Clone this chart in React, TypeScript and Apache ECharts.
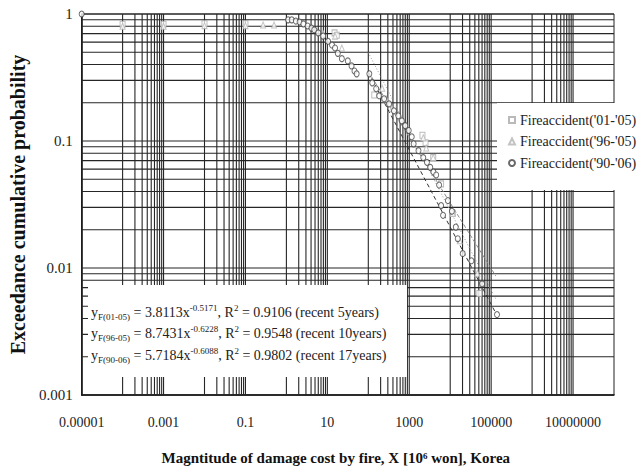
import React, { useEffect, useRef } from 'react';
import * as echarts from 'echarts';

// ---- axis structure ----
const X_MIN = 0.00001;
const X_MAX = 100000000;
const Y_MIN = 0.001;
const Y_MAX = 1;
const X_TICKS = [0.00001, 0.001, 0.1, 10, 1000, 100000, 10000000];
const Y_TICKS = [0.001, 0.01, 0.1, 1];
// gridline decades (Excel-style: x minor lines in every other decade)
const GRID_X_DECADES = [0.0001, 0.01, 1, 100, 10000, 1000000];
const GRID_Y_DECADES = [0.001, 0.01, 0.1];
const GRID_MULTIPLES = [1, 2, 3, 4, 5, 6, 7, 8, 9, 10];

// ---- series names ----
const NAME_01_05 = "Fireaccident('01-'05)";
const NAME_96_05 = "Fireaccident('96-'05)";
const NAME_90_06 = "Fireaccident('90-'06)";

// ---- data: Fire accident '90-'06 (circles) ----
const circleX = [0.00001, 1.1, 1.35, 1.7, 2.1, 2.6, 3.3, 4.1, 4.8, 6.0, 7.9, 10.4, 13, 15.4, 18, 22.6, 31.6, 39, 46, 52,
  106, 125, 156, 185, 243, 321, 423, 540, 660, 800, 970, 1150, 1280, 1680, 2200, 2700, 3260, 3900, 4550, 5360, 6000, 6700, 8800,
  11000, 13700, 15300, 20200, 33000, 60000, 139000];
const circleY = [1.0, 0.9, 0.9, 0.88, 0.865, 0.835, 0.805, 0.775, 0.75, 0.71, 0.67, 0.61, 0.57, 0.54, 0.49, 0.445, 0.427, 0.39, 0.356, 0.338,
  0.338, 0.287, 0.258, 0.227, 0.215, 0.196, 0.173, 0.158, 0.144, 0.132, 0.121, 0.108, 0.095, 0.084, 0.074, 0.068, 0.062, 0.057, 0.054, 0.045, 0.031, 0.026, 0.034,
  0.028, 0.021, 0.017, 0.013, 0.0114, 0.0075, 0.0043];

// ---- data: Fire accident '01-'05 (squares) ----
const squareX = [0.0001, 0.001, 0.01, 0.1, 15, 17, 140, 2100, 2500, 3850, 6000, 11600, 51500];
const squareY = [0.83, 0.83, 0.84, 0.84, 0.71, 0.68, 0.23, 0.111, 0.097, 0.074, 0.046, 0.027, 0.0063];

// ---- data: Fire accident '96-'05 (triangles) ----
const triX = [0.0001, 0.001, 0.01, 0.1, 0.27, 0.5, 7.9, 15.4, 22.6, 218, 272, 378, 622, 2200, 2600, 3850, 11600, 17100, 46100];
const triY = [0.8, 0.8, 0.81, 0.81, 0.82, 0.82, 0.7, 0.67, 0.54, 0.26, 0.215, 0.18, 0.152, 0.106, 0.088, 0.074, 0.027, 0.0164, 0.0091];

// ---- fitted power-law lines (end points) ----
const FIT_X = [100, 130000];
const fit0105Y = [0.352, 0.00864];
const fit9605Y = [0.497, 0.00571];
const fit9006Y = [0.347, 0.00441];

// ---- equation text ----
const EQ_SUB = ['F(01-05)', 'F(96-05)', 'F(90-06)'];
const EQ_COEF = ['3.8113', '8.7431', '5.7184'];
const EQ_EXP = ['-0.5171', '-0.6228', '-0.6088'];
const EQ_R2 = ['0.9106', '0.9548', '0.9802'];
const EQ_NOTE = ['recent 5years', 'recent 10years', 'recent 17years'];

const FONT = 'Liberation Serif';

const zip = (xs: number[], ys: number[]) => xs.map((x, i) => [x, ys[i]]);

const fmtLog = (v: number) => {
  const e = Math.round(Math.log10(v));
  return e < 0 ? '0.' + '0'.repeat(-e - 1) + '1' : '1' + '0'.repeat(e);
};

export default function App() {
  const ref = useRef<HTMLDivElement>(null);

  useEffect(() => {
    if (!ref.current) return;
    const chart = echarts.init(ref.current, undefined, { renderer: 'svg' });

    const vGrid: number[][] = [];
    GRID_X_DECADES.forEach((d) => GRID_MULTIPLES.forEach((m) => vGrid.push([d * m, Y_MAX])));
    const hGrid: number[][] = [];
    GRID_Y_DECADES.forEach((d) => GRID_MULTIPLES.slice(0, 9).forEach((m) => hGrid.push([X_MAX, d * m])));
    hGrid.push([X_MAX, Y_MAX]);

    const gridColor = '#262626';
    const legendText = { fontFamily: FONT, fontSize: 14, color: '#222', lineHeight: 14 };

    const eqTexts = EQ_SUB.map((s, i) => ({
      type: 'text',
      x: 91,
      y: 312 + i * 21.5,
      z: 101,
      style: {
        text: `{m|y}{sub|${s}}{m| = ${EQ_COEF[i]}x}{sup|${EQ_EXP[i]}}{m|, R}{sup|2}{m| = ${EQ_R2[i]} (${EQ_NOTE[i]})}`,
        verticalAlign: 'middle',
        rich: {
          m: { fontSize: 14, fontFamily: FONT, fill: '#222', lineHeight: 18 },
          sub: { fontSize: 9, fontFamily: FONT, fill: '#222', lineHeight: 10, verticalAlign: 'bottom' },
          sup: { fontSize: 9, fontFamily: FONT, fill: '#222', lineHeight: 10, verticalAlign: 'top' },
        },
      },
    }));

    chart.setOption({
      animation: false,
      backgroundColor: '#fff',
      textStyle: { fontFamily: FONT },
      grid: { left: 72, right: 26, top: 14, bottom: 77, show: true, borderColor: '#222', borderWidth: 1 },
      legend: {
        data: [
          { name: NAME_01_05, icon: 'rect', textStyle: legendText },
          { name: NAME_96_05, icon: 'triangle', textStyle: legendText },
          { name: NAME_90_06, icon: 'circle', textStyle: legendText },
        ],
        orient: 'vertical',
        left: 497,
        top: 103,
        padding: [10, 4, 20, 11],
        itemGap: 7.5,
        itemWidth: 6,
        itemHeight: 6,
        backgroundColor: '#fff',
        textStyle: legendText,
      },
      xAxis: {
        type: 'log',
        logBase: 10,
        min: X_MIN,
        max: X_MAX,
        axisLine: { show: true, lineStyle: { color: '#111', width: 1.5 } },
        axisTick: { show: false },
        splitLine: { show: false },
        axisLabel: {
          customValues: X_TICKS,
          formatter: fmtLog,
          margin: 20,
          fontFamily: FONT,
          fontSize: 14,
          color: '#222',
        },
        name: 'Magntitude of damage cost by fire, X [10⁶ won], Korea',
        nameLocation: 'middle',
        nameGap: 55,
        nameTextStyle: { fontFamily: FONT, fontSize: 15, fontWeight: 'bold', color: '#111', padding: [0, 24, 0, 0] },
      },
      yAxis: {
        type: 'log',
        logBase: 10,
        min: Y_MIN,
        max: Y_MAX,
        axisLine: { show: true, lineStyle: { color: '#111', width: 1.5 } },
        axisTick: { show: false },
        splitLine: { show: false },
        axisLabel: {
          customValues: Y_TICKS,
          formatter: fmtLog,
          margin: 9,
          fontFamily: FONT,
          fontSize: 15,
          color: '#222',
        },
        name: 'Exceedance cumulative probability',
        nameLocation: 'middle',
        nameGap: 46,
        nameTextStyle: { fontFamily: FONT, fontSize: 20, fontWeight: 'bold', color: '#111' },
      },
      graphic: [
        {
          type: 'rect',
          x: 88,
          y: 285,
          z: 100,
          shape: { x: 0, y: 0, width: 319, height: 92 },
          style: { fill: '#fff' },
        },
        ...eqTexts,
      ],
      series: [
        {
          type: 'custom',
          name: 'gridV',
          silent: true,
          z: 1,
          data: vGrid,
          encode: { x: 0, y: 1 },
          renderItem: (_p: any, api: any) => {
            const a = api.coord([api.value(0), Y_MIN]);
            const b = api.coord([api.value(0), Y_MAX]);
            return { type: 'line', shape: { x1: a[0], y1: a[1], x2: b[0], y2: b[1] }, style: { stroke: gridColor, lineWidth: 1.1 } };
          },
        },
        {
          type: 'custom',
          name: 'gridH',
          silent: true,
          z: 1,
          data: hGrid,
          encode: { x: 0, y: 1 },
          renderItem: (_p: any, api: any) => {
            const a = api.coord([X_MIN, api.value(1)]);
            const b = api.coord([X_MAX, api.value(1)]);
            return { type: 'line', shape: { x1: a[0], y1: a[1], x2: b[0], y2: b[1] }, style: { stroke: gridColor, lineWidth: 1.1 } };
          },
        },
        {
          type: 'line',
          name: 'fit0105',
          data: zip(FIT_X, fit0105Y),
          showSymbol: false,
          z: 3,
          lineStyle: { color: '#8a8a8a', width: 1, type: [4, 2] },
        },
        {
          type: 'line',
          name: 'fit9605',
          data: zip(FIT_X, fit9605Y),
          showSymbol: false,
          z: 3,
          lineStyle: { color: '#9a9a9a', width: 1, type: [1, 2] },
        },
        {
          type: 'line',
          name: 'fit9006',
          data: zip(FIT_X, fit9006Y),
          showSymbol: false,
          z: 3,
          lineStyle: { color: '#333', width: 1, type: [4, 3] },
        },
        {
          type: 'scatter',
          name: NAME_01_05,
          data: zip(squareX, squareY),
          symbol: 'rect',
          symbolSize: [5, 6],
          z: 4,
          itemStyle: { color: '#fff', borderColor: '#a8a8a8', borderWidth: 1 },
        },
        {
          type: 'scatter',
          name: NAME_96_05,
          data: zip(triX, triY),
          symbol: 'triangle',
          symbolSize: [5, 6],
          z: 5,
          itemStyle: { color: '#fff', borderColor: '#b4b4b4', borderWidth: 1 },
        },
        {
          type: 'scatter',
          name: NAME_90_06,
          data: zip(circleX, circleY),
          symbol: 'circle',
          symbolSize: [5, 6],
          z: 6,
          itemStyle: { color: '#fff', borderColor: '#444', borderWidth: 1 },
        },
      ],
    });

    return () => chart.dispose();
  }, []);

  return <div ref={ref} style={{ width: 640, height: 472, position: 'absolute', left: 0, top: 0 }} />;
}
